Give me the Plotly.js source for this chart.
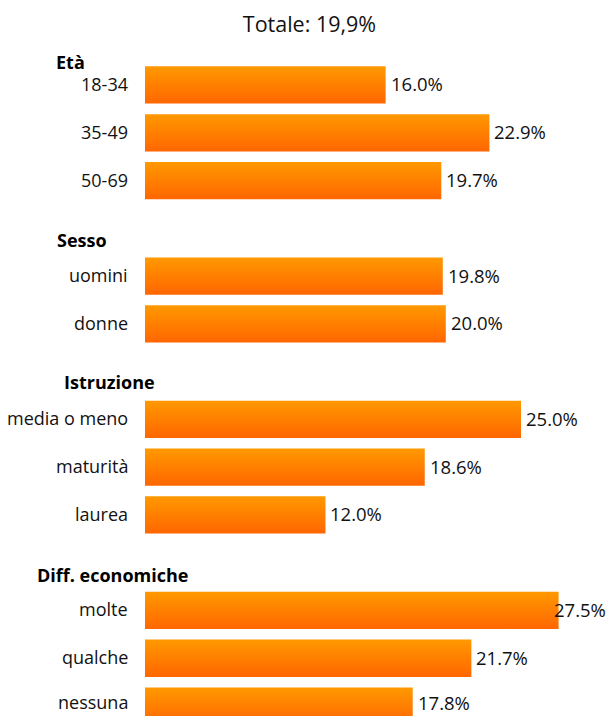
<!DOCTYPE html>
<html>
<head>
<meta charset="utf-8">
<script src="https://cdn.plot.ly/plotly-3.0.1.min.js"></script>
<style>html,body{margin:0;padding:0;background:#fff}#chart{width:608px;height:716px}</style>
</head>
<body>
<div id="chart"></div>
<script>
// Data
var titleText = 'Totale: 19,9%';
var groupNames = ['Età', 'Sesso', 'Istruzione', 'Diff. economiche'];
var groupSizes = [3, 2, 3, 3];
var categories = ['18-34', '35-49', '50-69', 'uomini', 'donne', 'media o meno', 'maturità', 'laurea', 'molte', 'qualche', 'nessuna'];
var values = [16.0, 22.9, 19.7, 19.8, 20.0, 25.0, 18.6, 12.0, 27.5, 21.7, 17.8];

// Row positions: one empty slot between groups
var positions = [];
var idx = 0;
groupSizes.forEach(function (n, g) {
  if (g > 0) idx += 1;
  for (var k = 0; k < n; k++) { positions.push(idx); idx++; }
});

var W = 608, H = 716, ML = 145, MT = 60;
var xMax = 463 / 15.04;
var yRange = [13.209, -0.523];
var pxPerX = (W - ML) / xMax;

var half = 0.39;
var font = 'Open Sans, Noto Sans, sans-serif';
var traces = [];
values.forEach(function (v, i) {
  var p = positions[i];
  traces.push({
    type: 'scatter', mode: 'none', fill: 'toself',
    x: [0, v, v, 0, 0],
    y: [p - half, p - half, p + half, p + half, p - half],
    fillgradient: {type: 'vertical', colorscale: [[0, '#FF6600'], [1, '#FF9900']]},
    hoverinfo: 'skip', showlegend: false
  });
});

var hdrY = [-0.48, 3.245, 6.22, 10.26];
var hdrX = [54, 55, 62, 35];
var annotations = groupNames.map(function (name, g) {
  return {
    text: '<b>' + name + '</b>', xref: 'paper', yref: 'y', x: 0, y: hdrY[g],
    xanchor: 'left', yanchor: 'middle', xshift: hdrX[g] - ML, showarrow: false,
    font: {family: font, size: 18, color: '#000'}
  };
});
var pxPerY = (H - MT) / (yRange[0] - yRange[1]);
categories.forEach(function (c, i) {
  var py = MT + (positions[i] - yRange[1]) * pxPerY;
  var ys = Math.min(0, (H - 13) - py);
  annotations.push({
    text: c, xref: 'paper', yref: 'y', x: 0, y: positions[i],
    xanchor: 'right', yanchor: 'middle', xshift: -15, yshift: -ys + 1, showarrow: false,
    font: {family: font, size: 18, color: '#111'}
  });
});
var labelW = 53;
values.forEach(function (v, i) {
  var py = MT + (positions[i] - yRange[1]) * pxPerY;
  var ys = Math.min(0, (H - 13) - py);
  var fits = ML + v * pxPerX + 5 + labelW <= W - 2;
  var a = {
    text: v.toFixed(1) + '%', yref: 'y', y: positions[i], yanchor: 'middle',
    yshift: -ys + 1, showarrow: false,
    font: {family: font, size: 18.5, color: '#111'}
  };
  if (fits) { a.xref = 'x'; a.x = v; a.xanchor = 'left'; a.xshift = 3; }
  else { a.xref = 'paper'; a.x = 1; a.xanchor = 'right'; a.xshift = 0; }
  annotations.push(a);
});

var layout = {
  width: W, height: H,
  margin: {l: ML, r: 0, t: MT, b: 0},
  paper_bgcolor: '#fff', plot_bgcolor: '#fff',
  title: {text: titleText, x: 0.509, xref: 'container', xanchor: 'center',
          y: 1 - 24 / H, yref: 'container', yanchor: 'middle',
          font: {family: font, size: 21.5, color: '#111'}},
  xaxis: {range: [0, xMax], showgrid: false, zeroline: false, showticklabels: false, showline: false, fixedrange: true},
  yaxis: {range: yRange, showticklabels: false, ticks: '',
          showgrid: false, zeroline: false, showline: false, fixedrange: true},
  annotations: annotations,
  showlegend: false
};

Plotly.newPlot('chart', traces, layout, {displayModeBar: false, staticPlot: true});
</script>
</body>
</html>
